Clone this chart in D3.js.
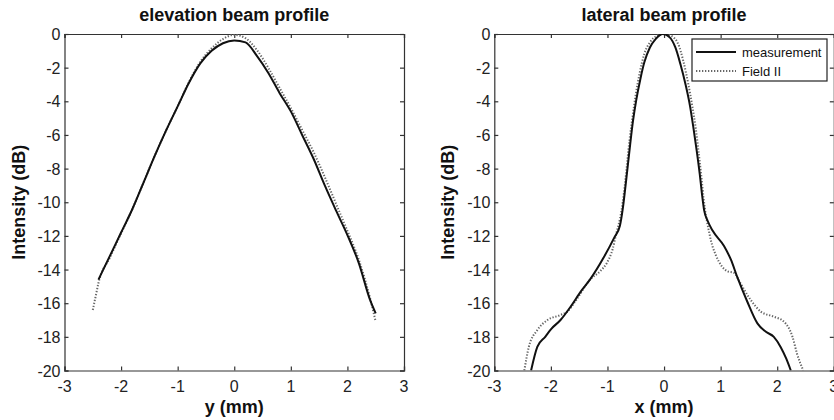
<!DOCTYPE html>
<html>
<head>
<meta charset="utf-8">
<script src="https://cdnjs.cloudflare.com/ajax/libs/d3/7.8.5/d3.min.js"></script>
<style>
  body { margin: 0; background: #fff; }
  svg { display: block; font-family: "Liberation Sans", Arial, sans-serif; }
</style>
</head>
<body>
<div id="chart"></div>
<script>
// axis ticks
const xTicks = [-3, -2, -1, 0, 1, 2, 3];
const yTicks = [0, -2, -4, -6, -8, -10, -12, -14, -16, -18, -20];

// elevation beam profile (left)
const elevMeasX = [-2.4, -2.2, -2.0, -1.8, -1.6, -1.4, -1.2, -1.0, -0.8, -0.6, -0.4, -0.2, 0, 0.2, 0.4, 0.6, 0.8, 1.0, 1.2, 1.4, 1.6, 1.8, 2.0, 2.2, 2.4, 2.5];
const elevMeasDb = [-14.6, -13.2, -11.8, -10.4, -8.8, -7.2, -5.7, -4.3, -2.9, -1.75, -1.0, -0.55, -0.38, -0.5, -1.3, -2.3, -3.5, -4.6, -6.0, -7.4, -9.0, -10.5, -11.95, -13.6, -15.8, -16.6];
const elevFieldX = [-2.5, -2.45, -2.4, -2.2, -2.0, -1.8, -1.6, -1.4, -1.2, -1.0, -0.8, -0.6, -0.4, -0.2, 0, 0.2, 0.4, 0.6, 0.8, 1.0, 1.2, 1.4, 1.6, 1.8, 2.0, 2.2, 2.4, 2.5];
const elevFieldDb = [-16.4, -15.6, -14.8, -13.3, -11.85, -10.4, -8.8, -7.2, -5.7, -4.3, -2.85, -1.65, -0.85, -0.3, -0.05, -0.25, -0.95, -2.0, -3.2, -4.4, -5.7, -7.0, -8.5, -10.1, -11.7, -13.4, -15.7, -17.1];

// lateral beam profile (right)
const latMeasX = [-2.35, -2.24, -2.10, -2.00, -1.83, -1.65, -1.47, -1.31, -1.07, -0.88, -0.78, -0.73, -0.69, -0.65, -0.60, -0.55, -0.49, -0.42, -0.35, -0.25, -0.15, -0.02, 0.10, 0.20, 0.29, 0.38, 0.46, 0.52, 0.58, 0.63, 0.67, 0.71, 0.77, 0.86, 1.06, 1.18, 1.30, 1.47, 1.65, 1.80, 1.94, 2.06, 2.16, 2.24];
const latMeasDb = [-20.0, -18.6, -18.0, -17.55, -17.0, -16.2, -15.3, -14.6, -13.3, -12.1, -11.4, -10.4, -9.3, -8.1, -6.6, -5.2, -3.9, -2.7, -1.7, -0.8, -0.3, 0.0, -0.2, -0.8, -1.8, -3.0, -4.3, -5.6, -7.0, -8.3, -9.5, -10.5, -11.1, -11.7, -12.6, -13.4, -14.5, -15.9, -17.2, -17.7, -18.0, -18.6, -19.3, -20.0];
const latFieldX = [-2.47, -2.39, -2.24, -2.06, -1.83, -1.71, -1.55, -1.31, -1.13, -1.01, -0.91, -0.84, -0.78, -0.73, -0.69, -0.65, -0.61, -0.56, -0.50, -0.43, -0.35, -0.25, -0.12, 0.0, 0.12, 0.25, 0.34, 0.43, 0.50, 0.56, 0.61, 0.66, 0.70, 0.74, 0.78, 0.83, 0.91, 1.02, 1.12, 1.24, 1.33, 1.53, 1.71, 1.94, 2.12, 2.27, 2.35, 2.46];
const latFieldDb = [-20.0, -18.6, -17.6, -17.0, -16.7, -16.5, -15.8, -14.6, -14.1, -13.6, -12.8, -11.8, -11.0, -10.0, -8.9, -7.6, -6.3, -5.0, -3.6, -2.3, -1.2, -0.5, -0.1, 0.0, -0.1, -0.6, -1.6, -3.0, -4.3, -5.6, -7.0, -8.5, -9.8, -10.8, -11.5, -12.3, -13.1, -13.8, -14.1, -14.2, -14.7, -15.8, -16.5, -16.8, -17.1, -18.0, -19.0, -20.0];

const seriesNames = ["measurement", "Field II"];

var W = 834, H = 420;
var svg = d3.select("#chart").append("svg")
    .attr("width", W)
    .attr("height", H);

function zip(xs, ys){
    return xs.map((x, i) => ({x: x, y: ys[i]}));
}

function renderPanel(opts){
    var left = opts.left, top = 34, width = 339.5, height = 336.5;

    var x = d3.scaleLinear().domain([-3, 3]).range([left, left + width]);
    var y = d3.scaleLinear().domain([-20, 0]).range([top + height, top]);

    var clipId = "clip" + opts.id;
    svg.append("clipPath").attr("id", clipId)
        .append("rect")
        .attr("x", left).attr("y", top)
        .attr("width", width).attr("height", height);

    // inward ticks on all four sides, MATLAB style
    var axisColor = "#333";
    var gBottom = svg.append("g")
        .attr("transform", "translate(0," + (top + height) + ")")
        .call(d3.axisTop(x).tickValues(xTicks).tickSize(4).tickFormat(""));
    var gTop = svg.append("g")
        .attr("transform", "translate(0," + top + ")")
        .call(d3.axisBottom(x).tickValues(xTicks).tickSize(4).tickFormat(""));
    var gLeft = svg.append("g")
        .attr("transform", "translate(" + left + ",0)")
        .call(d3.axisRight(y).tickValues(yTicks).tickSize(4).tickFormat(""));
    var gRight = svg.append("g")
        .attr("transform", "translate(" + (left + width) + ",0)")
        .call(d3.axisLeft(y).tickValues(yTicks).tickSize(4).tickFormat(""));
    [gBottom, gTop, gLeft, gRight].forEach(g => {
        g.selectAll("path,line").attr("stroke", axisColor).attr("stroke-width", 1.2);
    });

    // tick labels
    svg.selectAll("text.xt" + opts.id)
        .data(xTicks)
        .enter().append("text")
        .attr("x", d => x(d))
        .attr("y", top + height + 21)
        .attr("text-anchor", "middle")
        .attr("font-size", 16)
        .attr("fill", "#222")
        .text(d => String(d));
    svg.selectAll("text.yt" + opts.id)
        .data(yTicks)
        .enter().append("text")
        .attr("x", left - 4)
        .attr("y", d => y(d) + 6)
        .attr("text-anchor", "end")
        .attr("font-size", 16)
        .attr("fill", "#222")
        .text(d => String(d));

    // title and axis labels
    svg.append("text")
        .attr("x", left + width / 2)
        .attr("y", 21)
        .attr("text-anchor", "middle")
        .attr("font-size", 18)
        .attr("font-weight", "bold")
        .attr("fill", "#111")
        .text(opts.title);
    svg.append("text")
        .attr("x", left + width / 2)
        .attr("y", 413)
        .attr("text-anchor", "middle")
        .attr("font-size", 18)
        .attr("font-weight", "bold")
        .attr("fill", "#111")
        .text(opts.xLabel);
    svg.append("text")
        .attr("transform", "translate(" + (left - 40) + "," + (top + height / 2) + ") rotate(-90)")
        .attr("text-anchor", "middle")
        .attr("font-size", 18)
        .attr("font-weight", "bold")
        .attr("fill", "#111")
        .text("Intensity (dB)");

    var line = d3.line()
        .x(d => x(d.x))
        .y(d => y(d.y))
        .curve(d3.curveMonotoneX);

    var plot = svg.append("g").attr("clip-path", "url(#" + clipId + ")");
    plot.append("path")
        .datum(opts.field)
        .attr("fill", "none")
        .attr("stroke", "#666")
        .attr("stroke-width", 2)
        .attr("stroke-dasharray", "1.3,1.7")
        .attr("d", line);
    plot.append("path")
        .datum(opts.meas)
        .attr("fill", "none")
        .attr("stroke", "#111")
        .attr("stroke-width", 2)
        .attr("d", line);

    return {x: x, y: y, left: left, width: width};
}

renderPanel({
    id: "L", left: 64.5,
    title: "elevation beam profile", xLabel: "y (mm)",
    meas: zip(elevMeasX, elevMeasDb),
    field: zip(elevFieldX, elevFieldDb)
});
var right = renderPanel({
    id: "R", left: 494.3,
    title: "lateral beam profile", xLabel: "x (mm)",
    meas: zip(latMeasX, latMeasDb),
    field: zip(latFieldX, latFieldDb)
});

// legend
var lg = svg.append("g").attr("transform", "translate(692,39)");
lg.append("rect")
    .attr("width", 135).attr("height", 42)
    .attr("fill", "#fff")
    .attr("stroke", "#222")
    .attr("stroke-width", 1.2);
seriesNames.forEach((name, i) => {
    var yy = 13 + i * 19;
    lg.append("line")
        .attr("x1", 4).attr("x2", 44)
        .attr("y1", yy).attr("y2", yy)
        .attr("stroke", i == 0 ? "#111" : "#666")
        .attr("stroke-width", 2)
        .attr("stroke-dasharray", i == 0 ? null : "1.3,1.7");
    lg.append("text")
        .attr("x", 50)
        .attr("y", yy + 4.5)
        .attr("font-size", 13)
        .attr("fill", "#111")
        .text(name);
});
</script>
</body>
</html>
